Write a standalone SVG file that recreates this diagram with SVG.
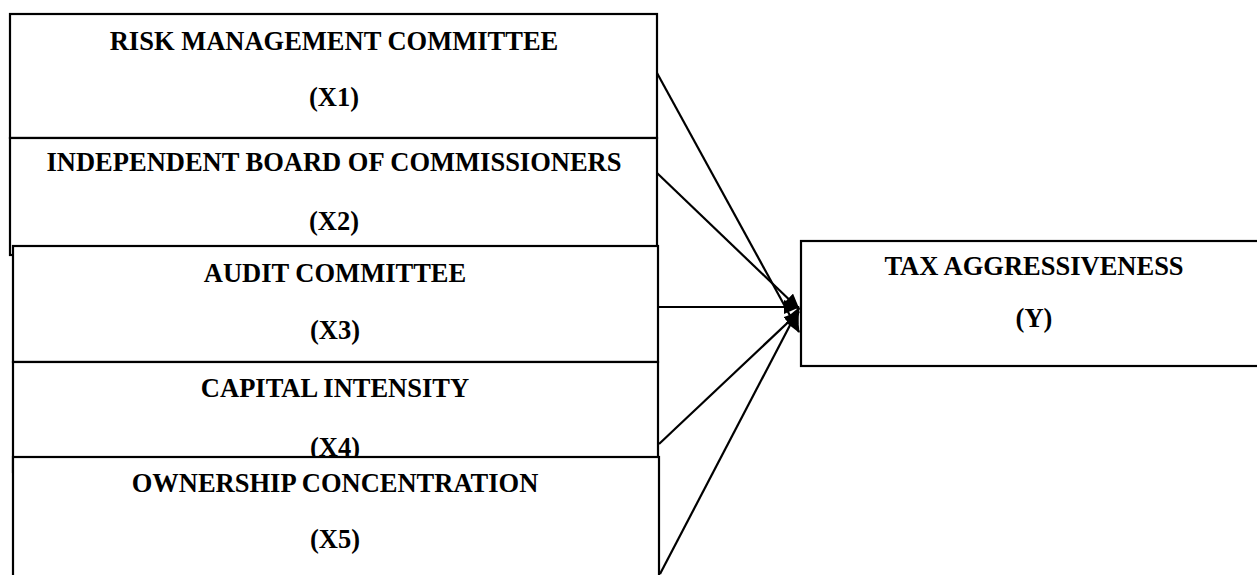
<svg xmlns="http://www.w3.org/2000/svg" width="1257" height="575" viewBox="0 0 1257 575">
  <style>
    .box { fill: #ffffff; stroke: #000000; stroke-width: 2.2; }
    .lbl { font-family: "Liberation Serif", "Times New Roman", serif; font-weight: bold; font-size: 26.5px; fill: #000000; text-anchor: middle; }
    .conn { stroke: #000000; stroke-width: 2.2; fill: none; marker-end: url(#arrow); }
  </style>
  <defs>
    <marker id="arrow" markerUnits="userSpaceOnUse" markerWidth="16" markerHeight="14" refX="15" refY="7" orient="auto">
      <path d="M0,0 L16,7 L0,14 z" fill="#000000"/>
    </marker>
  </defs>
  <rect x="0" y="0" width="1257" height="575" fill="#ffffff"/>

  <g id="node-x1">
    <rect class="box" x="10" y="14" width="647" height="124"/>
    <text class="lbl" x="334" y="50">RISK MANAGEMENT COMMITTEE</text>
    <text class="lbl" x="334" y="106">(X1)</text>
  </g>
  <g id="node-x2">
    <rect class="box" x="10" y="138" width="647" height="117"/>
    <text class="lbl" x="334" y="171">INDEPENDENT BOARD OF COMMISSIONERS</text>
    <text class="lbl" x="334" y="230">(X2)</text>
  </g>
  <g id="node-x3">
    <rect class="box" x="13" y="246" width="645" height="116"/>
    <text class="lbl" x="335" y="282">AUDIT COMMITTEE</text>
    <text class="lbl" x="335" y="339">(X3)</text>
  </g>
  <g id="node-x4">
    <rect class="box" x="13" y="362" width="645" height="110"/>
    <text class="lbl" x="335" y="397">CAPITAL INTENSITY</text>
    <text class="lbl" x="335" y="456">(X4)</text>
  </g>
  <g id="node-x5">
    <rect class="box" x="13" y="457" width="646" height="130"/>
    <text class="lbl" x="335" y="492">OWNERSHIP CONCENTRATION</text>
    <text class="lbl" x="335" y="548">(X5)</text>
  </g>
  <g id="node-y">
    <rect class="box" x="801" y="241" width="470" height="125"/>
    <text class="lbl" x="1034" y="275">TAX AGGRESSIVENESS</text>
    <text class="lbl" x="1034" y="327">(Y)</text>
  </g>

  <g id="connectors">
    <line class="conn" x1="657" y1="73" x2="799" y2="332"/>
    <line class="conn" x1="657" y1="173" x2="799" y2="309"/>
    <line class="conn" x1="658" y1="307" x2="799" y2="307"/>
    <line class="conn" x1="659" y1="444" x2="799" y2="312"/>
    <line class="conn" x1="660" y1="574" x2="799" y2="308"/>
  </g>
</svg>
